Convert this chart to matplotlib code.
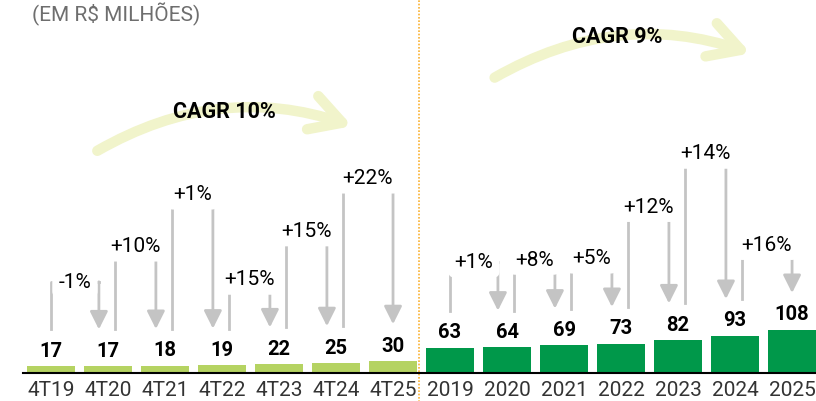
import matplotlib
matplotlib.use("Agg")
import matplotlib.pyplot as plt
from matplotlib.patches import FancyArrowPatch

plt.rcParams['font.family'] = ['Roboto', 'DejaVu Sans']

# dados ---------------------------------------------------------------
quarters   = ["4T19", "4T20", "4T21", "4T22", "4T23", "4T24", "4T25"]
q_values   = [17, 17, 18, 19, 22, 25, 30]
years      = ["2019", "2020", "2021", "2022", "2023", "2024", "2025"]
y_values   = [63, 64, 69, 73, 82, 93, 108]
q_changes  = ["-1%", "+10%", "+1%", "+15%", "+15%", "+22%"]
y_changes  = ["+1%", "+8%", "+5%", "+12%", "+14%", "+16%"]
cagr_q     = "CAGR 10%"
cagr_y     = "CAGR 9%"

# altura dos colchetes de variação (layout, em unidades do eixo)
q_bracket_h = [228, 318, 448, 235, 356, 488]
y_bracket_h = [278, 285, 288, 417, 550, 322]

LIGHT = "#b5d362"
DARK = "#00984a"
GRAY = "#c4c4c4"
ARC = "#f1f4cb"

fig = plt.figure(figsize=(8.16, 4.02), dpi=100)
ax = fig.add_axes([22.5 / 816, 28 / 402, (816 - 22.5) / 816, 374 / 402])

labels = quarters + years
values = q_values + y_values
xs = list(range(len(labels)))
colors = [LIGHT] * len(quarters) + [DARK] * len(years)

ax.bar(xs, values, width=0.84, color=colors, zorder=2)
ax.set_xlim(-0.5, 13.42)
ax.set_ylim(0, 935)

for x, v in zip(xs, values):
    ax.annotate(str(v), (x, v), xytext=(0, 7.5), textcoords="offset points",
                ha="center", va="baseline", fontsize=14.5, fontweight="bold",
                color="black")

# colchetes de variação -------------------------------------------------
def brackets(start, vals, changes, heights):
    n = len(vals)
    for i in range(n - 1):
        x0 = start + i + (0 if i == 0 else 0.12)
        x1 = start + i + 1 - (0 if i + 1 == n - 1 else 0.16)
        y0 = vals[i] + 92
        y1 = vals[i + 1] + 92
        h = heights[i]
        ax.plot([x0, x0, x1], [y0, h, h], color=GRAY, lw=2,
                solid_joinstyle="round", zorder=3)
        ax.annotate("", xy=(x1, y1), xytext=(x1, h),
                    arrowprops=dict(arrowstyle="-|>,head_length=0.6,head_width=0.3",
                                    mutation_scale=18, color=GRAY, lw=2,
                                    shrinkA=0, shrinkB=0),
                    zorder=3)
        ax.text((x0 + x1) / 2, h, changes[i], ha="center", va="center",
                fontsize=15, color="black", zorder=5,
                bbox=dict(boxstyle="round,pad=0.3", fc="white", ec="none"))

brackets(0, q_values, q_changes, q_bracket_h)
brackets(len(quarters), y_values, y_changes, y_bracket_h)

# setas de CAGR ---------------------------------------------------------
def cagr(p0, p1, text, tpos):
    arr = FancyArrowPatch(p0, p1, connectionstyle="arc3,rad=-0.23",
                          arrowstyle="->,head_length=0.8,head_width=0.45",
                          mutation_scale=28, color=ARC, lw=7.5,
                          capstyle="round", joinstyle="round", zorder=1)
    ax.add_patch(arr)
    ax.text(tpos[0], tpos[1], text, ha="center", va="center", fontsize=15.5,
            fontweight="bold", color="black", zorder=6)

cagr((0.77, 552), (5.33, 615), cagr_q, (3.05, 655))
cagr((7.74, 735), (12.32, 797), cagr_y, (9.93, 842))

# divisória
ax.axvline(6.45, color="#f9b233", lw=1.2, ls=(0, (1, 1)), ymin=-0.1, ymax=1.0,
           clip_on=False, zorder=4)

ax.set_xticks(xs)
ax.set_xticklabels(labels, fontsize=15, color="#333333")
ax.tick_params(axis="x", length=0, pad=5)
ax.set_yticks([])
for s in ["top", "right", "left"]:
    ax.spines[s].set_visible(False)
ax.spines["bottom"].set_linewidth(1.5)
ax.spines["bottom"].set_zorder(4)

fig.text(32 / 816, 1 - 14 / 402, "(EM R$ MILHÕES)", fontsize=15, color="#6e6e6e",
         ha="left", va="center")

fig.savefig("out.png", dpi=100)
